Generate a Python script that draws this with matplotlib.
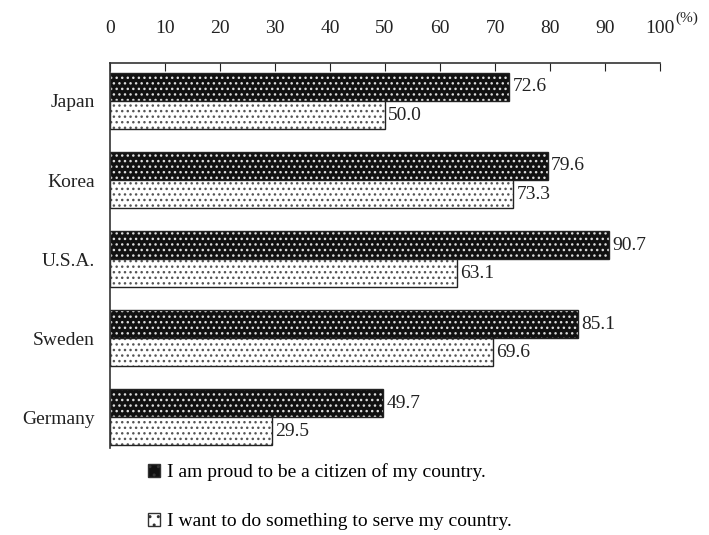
import matplotlib.pyplot as plt
from matplotlib.patches import Patch
import numpy as np

plt.rcParams['font.family'] = ['Liberation Serif', 'DejaVu Serif']
plt.rcParams['hatch.linewidth'] = 1.0

countries = ['Japan', 'Korea', 'U.S.A.', 'Sweden', 'Germany']
proud = [72.6, 79.6, 90.7, 85.1, 49.7]
serve = [50.0, 73.3, 63.1, 69.6, 29.5]
labels = ['I am proud to be a citizen of my country.',
          'I want to do something to serve my country.']
xticks = list(range(0, 101, 10))

fig = plt.figure(figsize=(7.09, 5.35), dpi=100)
ax = fig.add_axes([0.155, 0.1626, 0.776, 0.7196])

y = np.arange(len(countries))
h = 0.355

# dark bars: black with white dots
ax.barh(y - h / 2, proud, height=h, color='#111111', hatch='...',
        edgecolor='#dddddd', linewidth=0)
ax.barh(y - h / 2, proud, height=h, fill=False, edgecolor='#222222', linewidth=1)

# light bars: white with dark dots
ax.barh(y + h / 2, serve, height=h, color='white', hatch='...',
        edgecolor='#555555', linewidth=0)
ax.barh(y + h / 2, serve, height=h, fill=False, edgecolor='#222222', linewidth=1)

for i in range(len(countries)):
    ax.text(proud[i] + 0.6, y[i] - h / 2, f'{proud[i]:.1f}', va='center',
            ha='left', fontsize=14, color='#222222')
    ax.text(serve[i] + 0.6, y[i] + h / 2, f'{serve[i]:.1f}', va='center',
            ha='left', fontsize=14, color='#222222')

ax.set_xlim(0, 100)
ax.set_ylim(len(countries) - 0.61, -0.48)
ax.xaxis.tick_top()
ax.set_xticks(xticks)
ax.set_xticklabels([str(t) for t in xticks])
ax.tick_params(axis='x', direction='in', length=6, pad=19, labelsize=14,
               colors='#222222')
ax.set_yticks(y)
ax.set_yticklabels(countries)
ax.tick_params(axis='y', length=0, pad=11, labelsize=14, colors='#222222')
for s in ['right', 'bottom']:
    ax.spines[s].set_visible(False)
for s in ['top', 'left']:
    ax.spines[s].set_color('#333333')
    ax.spines[s].set_linewidth(1.2)

fig.text(0.953, 0.966, '(%)', fontsize=11, color='#222222', ha='left', va='center')

handles = [Patch(facecolor='#111111', edgecolor='#333333', hatch='..'),
           Patch(facecolor='white', edgecolor='#333333', hatch='..')]
ax.legend(handles, labels, loc='upper left', bbox_to_anchor=(0.209, 0.134),
          bbox_transform=fig.transFigure, frameon=False, fontsize=14,
          handlelength=0.6, handleheight=0.6, handletextpad=0.35,
          labelspacing=1.65, borderaxespad=0, borderpad=0)

fig.savefig('out.png', dpi=100)
